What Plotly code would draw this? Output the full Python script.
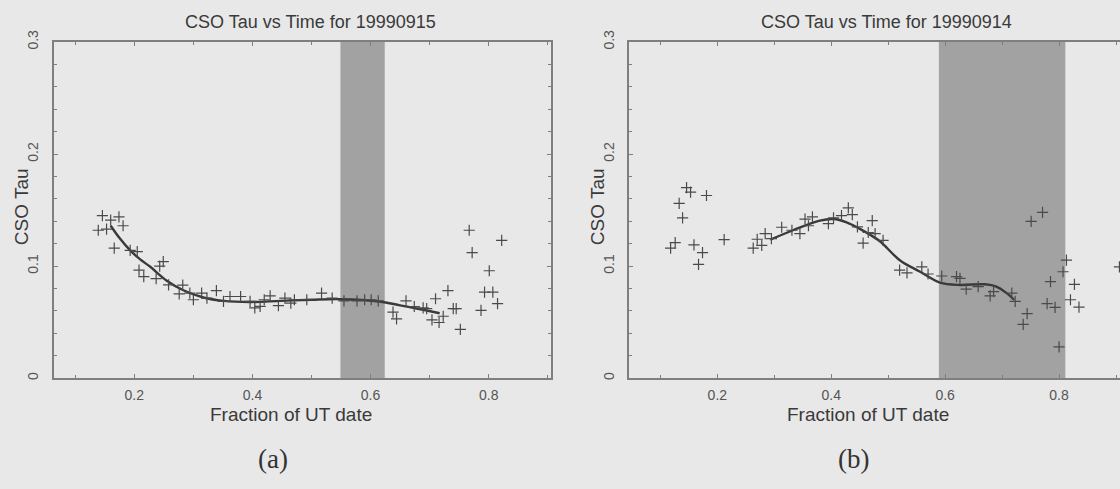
import plotly.graph_objects as go
from plotly.subplots import make_subplots

# CSO tau readings, 19990915 (panel a)
a_time = [0.139, 0.146, 0.153, 0.160, 0.166, 0.174, 0.181, 0.193, 0.205, 0.208,
          0.216, 0.237, 0.243, 0.249, 0.258, 0.276, 0.282, 0.294, 0.300, 0.314,
          0.323, 0.339, 0.351, 0.362, 0.380, 0.396, 0.404, 0.413, 0.420, 0.430,
          0.444, 0.455, 0.465, 0.471, 0.492, 0.517, 0.535, 0.555, 0.577, 0.590,
          0.601, 0.613, 0.638, 0.644, 0.660, 0.674, 0.689, 0.695, 0.704, 0.710,
          0.716, 0.723, 0.731, 0.740, 0.745, 0.752, 0.767, 0.772, 0.787, 0.793,
          0.801, 0.807, 0.815, 0.822]
a_tau = [0.132, 0.145, 0.133, 0.141, 0.116, 0.144, 0.136, 0.114, 0.113, 0.0965,
         0.0906, 0.0888, 0.100, 0.104, 0.0832, 0.0753, 0.0830, 0.0759, 0.0700, 0.0759,
         0.0715, 0.0782, 0.0685, 0.0729, 0.0729, 0.0685, 0.0627, 0.0641, 0.0700, 0.0735,
         0.0647, 0.0715, 0.0670, 0.0700, 0.0700, 0.0759, 0.0715, 0.0690, 0.0690, 0.0700,
         0.0700, 0.0690, 0.0590, 0.0530, 0.0690, 0.0640, 0.0627, 0.0620, 0.0520, 0.0709,
         0.0497, 0.0553, 0.0782, 0.0620, 0.0620, 0.0435, 0.1320, 0.1120, 0.0605, 0.0768,
         0.0959, 0.0768, 0.0665, 0.1230]
a_fit_time = [0.160, 0.175, 0.193, 0.210, 0.227, 0.255, 0.283, 0.317, 0.351, 0.396,
              0.447, 0.500, 0.548, 0.615, 0.650, 0.680, 0.717]
a_fit_tau = [0.136, 0.125, 0.114, 0.106, 0.0994, 0.0870, 0.0785, 0.0720, 0.0690, 0.0680,
             0.0690, 0.0700, 0.0705, 0.0685, 0.0650, 0.0620, 0.0580]
a_band = [0.549, 0.624]

# CSO tau readings, 19990914 (panel b)
b_time = [0.118, 0.126, 0.133, 0.139, 0.146, 0.153, 0.159, 0.167, 0.174, 0.181,
          0.212, 0.263, 0.270, 0.278, 0.284, 0.295, 0.313, 0.331, 0.345, 0.354,
          0.360, 0.367, 0.395, 0.404, 0.418, 0.430, 0.437, 0.446, 0.456, 0.465,
          0.472, 0.477, 0.491, 0.520, 0.533, 0.559, 0.570, 0.594, 0.620, 0.626,
          0.637, 0.658, 0.679, 0.685, 0.717, 0.723, 0.737, 0.744, 0.751, 0.771,
          0.779, 0.785, 0.793, 0.800, 0.807, 0.813, 0.820, 0.827, 0.835, 0.906]
b_tau = [0.116, 0.121, 0.156, 0.143, 0.170, 0.166, 0.119, 0.1015, 0.112, 0.163,
         0.1236, 0.116, 0.124, 0.1185, 0.129, 0.1245, 0.1347, 0.132, 0.129, 0.142,
         0.136, 0.144, 0.138, 0.143, 0.145, 0.152, 0.146, 0.135, 0.1206, 0.130,
         0.1406, 0.129, 0.123, 0.0965, 0.094, 0.0994, 0.093, 0.0912, 0.0906, 0.089,
         0.0794, 0.0817, 0.0735, 0.0773, 0.0759, 0.0685, 0.048, 0.0576, 0.140, 0.148,
         0.0665, 0.0862, 0.0632, 0.0279, 0.095, 0.1053, 0.070, 0.0838, 0.0635, 0.0994]
b_fit_time = [0.293, 0.333, 0.380, 0.404, 0.427, 0.451, 0.468, 0.486, 0.521, 0.556,
              0.591, 0.626, 0.670, 0.690, 0.708, 0.721]
b_fit_tau = [0.1236, 0.132, 0.1406, 0.142, 0.139, 0.133, 0.128, 0.122, 0.105, 0.095,
             0.0853, 0.0832, 0.0838, 0.0817, 0.0759, 0.070]
b_band = [0.589, 0.811]

x_ticks = [0.2, 0.4, 0.6, 0.8]
y_ticks = [0, 0.1, 0.2, 0.3]

bg = "#e8e8e8"
axis_grey = "#7f7f7f"
tick_font = dict(family="Liberation Sans", size=14, color="#555555")

fig = make_subplots(rows=1, cols=2)

panels = [(a_time, a_tau, a_fit_time, a_fit_tau, a_band, 1),
          (b_time, b_tau, b_fit_time, b_fit_tau, b_band, 2)]

for t, tau, ft, ftau, band, col in panels:
    xr = "x" if col == 1 else "x2"
    yr = "y" if col == 1 else "y2"
    # shaded interval drawn as a shape in data coordinates
    fig.add_shape(type="rect", xref=xr, yref=yr, x0=band[0], x1=band[1], y0=0, y1=0.3,
                  fillcolor="#a2a2a2", line_width=0, layer="below")
    fig.add_trace(go.Scatter(x=ft, y=ftau, mode="lines", line_shape="spline",
                             line=dict(color="#3a3a3a", width=2.4),
                             showlegend=False), row=1, col=col)
    fig.add_trace(go.Scatter(x=t, y=tau, mode="markers",
                             marker=dict(symbol="cross-thin", size=8,
                                         line=dict(color="#4a4a4a", width=1.2)),
                             showlegend=False), row=1, col=col)

common_x = dict(tickvals=x_ticks, ticks="inside", ticklen=4, tickcolor=axis_grey,
                minor=dict(dtick=0.1, tick0=0, ticks="inside", ticklen=3, tickcolor=axis_grey),
                showline=True, linecolor=axis_grey, linewidth=2, showgrid=False,
                zeroline=False, tickfont=tick_font, ticklabelstandoff=3)
common_y = dict(tickvals=y_ticks, range=[0, 0.3], ticks="inside", ticklen=4,
                tickcolor=axis_grey, tickangle=-90,
                minor=dict(dtick=0.02, tick0=0, ticks="inside", ticklen=3, tickcolor=axis_grey),
                showline=True, linecolor=axis_grey, linewidth=2, showgrid=False,
                zeroline=False, tickfont=tick_font, ticklabelstandoff=8,
                domain=[0.229, 0.937])

fig.update_xaxes(common_x)
fig.update_yaxes(common_y)
fig.update_layout(
    xaxis=dict(domain=[0.0482, 0.4917], range=[0.064, 0.905], mirror="allticks"),
    xaxis2=dict(domain=[0.5619, 1.0], range=[0.0455, 0.907], mirror="allticks"),
    yaxis=dict(mirror="allticks"),
    yaxis2=dict(mirror=False),
)

# (text, x px, y in paper fraction, angle, size)
annotations = [
    ("CSO Tau vs Time for 19990915", 310, 0.979, 0, 18),
    ("CSO Tau vs Time for 19990914", 886, 0.979, 0, 18),
    ("Fraction of UT date", 291, 0.152, 0, 19),
    ("Fraction of UT date", 868, 0.152, 0, 19),
    ("CSO Tau", 21, 0.589, -90, 19),
    ("CSO Tau", 597, 0.589, -90, 19),
]
for text, px, py, angle, size in annotations:
    fig.add_annotation(text=text, x=px / 1120, y=py, xref="paper", yref="paper",
                       showarrow=False, textangle=angle, xanchor="center", yanchor="middle",
                       font=dict(family="Liberation Sans", size=size, color="#3a3a3a"))

for text, px in [("(a)", 273), ("(b)", 853)]:
    fig.add_annotation(text=text, x=px / 1120, y=0.06, xref="paper", yref="paper",
                       showarrow=False, xanchor="center", yanchor="middle",
                       font=dict(family="Liberation Serif", size=27, color="#333333"))

fig.update_layout(width=1120, height=489, margin=dict(l=0, r=0, t=0, b=0),
                  paper_bgcolor=bg, plot_bgcolor=bg, showlegend=False)

fig.write_html("out.html", config={"displayModeBar": False},
               post_script="document.body.style.margin='0';")
